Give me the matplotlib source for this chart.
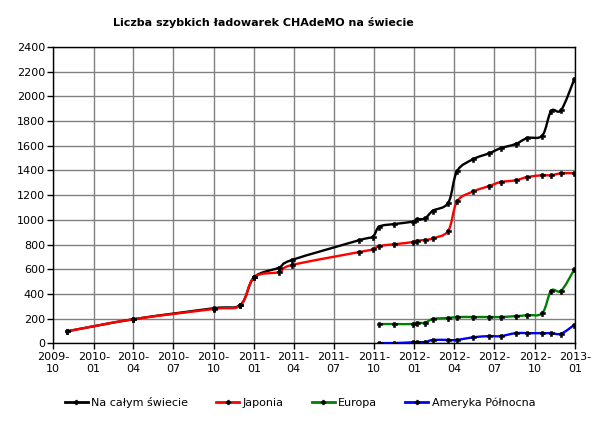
"""CHAdeMO fast chargers worldwide, 2009-2013 (Excel-style smoothed lines)."""
import matplotlib

matplotlib.use("Agg")
import matplotlib.dates as mdates  # noqa: E402
import matplotlib.pyplot as plt  # noqa: E402
import numpy as np  # noqa: E402
from matplotlib.lines import Line2D  # noqa: E402
from matplotlib.patches import PathPatch  # noqa: E402
from matplotlib.path import Path  # noqa: E402

TITLE = "Liczba szybkich ładowarek CHAdeMO na świecie"

# --- data ----------------------------------------------------------------
world_dates = [
    "2009-11-01", "2010-04-01", "2010-10-01", "2010-12-01", "2011-01-01",
    "2011-02-26", "2011-03-28", "2011-08-28", "2011-09-28", "2011-10-13",
    "2011-11-16", "2011-12-28", "2012-01-06", "2012-01-25", "2012-02-12",
    "2012-03-18", "2012-04-07", "2012-05-14", "2012-06-19", "2012-07-15",
    "2012-08-18", "2012-09-14", "2012-10-18", "2012-11-07", "2012-11-30",
    "2012-12-30",
]
world = [97, 195, 284, 312, 535, 612, 675, 835, 864, 945, 966, 985, 1004,
         1012, 1074, 1139, 1395, 1492, 1539, 1580, 1614, 1663, 1683, 1882,
         1890, 2141]

japan_dates = world_dates
japan = [97, 195, 278, 308, 535, 577, 634, 739, 761, 788, 802, 820, 831,
         837, 850, 912, 1150, 1230, 1274, 1306, 1320, 1347, 1361, 1361,
         1377, 1377]

europe_dates = world_dates[9:]
europe = [156, 156, 156, 165, 167, 197, 205, 213, 213, 213, 213, 220, 228,
          245, 426, 426, 600]

america_dates = world_dates[9:]
america = [2, 2, 8, 10, 10, 27, 27, 27, 49, 58, 58, 82, 82, 82, 82, 78, 150]

series = [
    ("Na całym świecie", world_dates, world, "#000000"),
    ("Japonia", japan_dates, japan, "#ff0000"),
    ("Europa", europe_dates, europe, "#008000"),
    ("Ameryka Północna", america_dates, america, "#0000ff"),
]

x_ticks = [f"{y}-{m:02d}-01" for y in range(2009, 2014) for m in (1, 4, 7, 10)]
x_ticks = [d for d in x_ticks if "2009-10-01" <= d <= "2013-01-01"]
y_ticks = list(range(0, 2401, 200))


def _num(dates):
    return mdates.date2num(np.array(dates, dtype="datetime64[D]"))


def _smooth_path(xs, ys):
    # Catmull-Rom through the points, as cubic Bezier segments (Excel "smoothed line").
    pts = np.column_stack([xs, ys])
    n = len(pts)
    verts, codes = [pts[0]], [Path.MOVETO]
    for i in range(n - 1):
        p0, p1 = pts[max(i - 1, 0)], pts[i]
        p2, p3 = pts[i + 1], pts[min(i + 2, n - 1)]
        verts += [p1 + (p2 - p0) / 6, p2 - (p3 - p1) / 6, p2]
        codes += [Path.CURVE4] * 3
    return Path(verts, codes)


fig = plt.figure(figsize=(6.0, 4.24), dpi=100)
ax = fig.add_axes([53.3 / 600, 1 - 343.3 / 424, 522 / 600, 296.3 / 424])

for label, dates, vals, color in series:
    xs = _num(dates)
    ax.add_patch(PathPatch(_smooth_path(xs, vals), fill=False, edgecolor=color,
                           lw=1.7, zorder=3))
    ax.plot(xs, vals, ls="none", marker="P", ms=3.6, mfc="k", mec="k",
            mew=0.4, zorder=4)

ax.set_xlim(_num(["2009-10-01", "2013-01-01"]))
ax.set_ylim(0, 2400)
ax.set_xticks(_num(x_ticks))
ax.set_xticklabels([d[:4] + "-\n" + d[5:7] for d in x_ticks], linespacing=1.35)
ax.set_yticks(y_ticks)
ax.tick_params(labelsize=8, direction="out", length=4, width=1, color="k",
               pad=2)
ax.grid(True, color="#808080", lw=1)
ax.set_axisbelow(True)
for s in ax.spines.values():
    s.set_color("k")
    s.set_linewidth(1)

fig.text(263 / 600, 1 - 22 / 424, TITLE, ha="center", va="center",
         fontsize=8, weight="bold")

handles = [Line2D([], [], color=c, lw=2, marker="P", ms=3.4, mfc="k", mec="k",
                  mew=0.4) for _, _, _, c in series]
fig.legend(handles, [s[0] for s in series], loc="center",
           bbox_to_anchor=(0.5, 1 - 402 / 424), ncol=4, frameon=False,
           fontsize=8, handlelength=2.1, handletextpad=0.3, columnspacing=2.5)

fig.savefig("out.png", dpi=100)
